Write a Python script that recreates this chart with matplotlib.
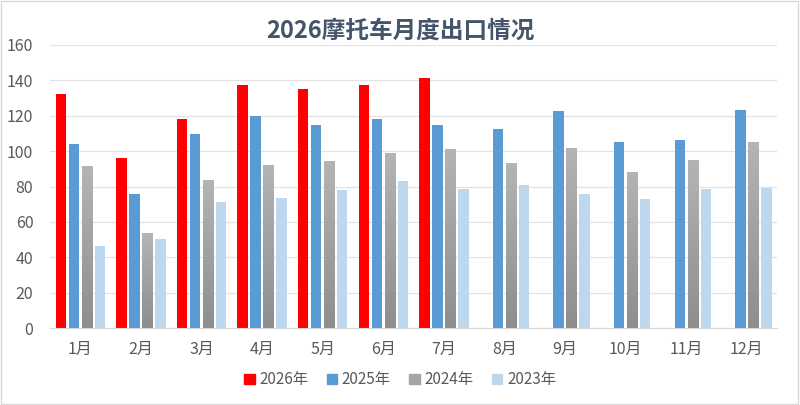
import numpy as np
import matplotlib
matplotlib.use('Agg')
import matplotlib.pyplot as plt
from matplotlib.patches import Rectangle
from matplotlib.colors import LinearSegmentedColormap

plt.rcParams['font.family'] = ['Noto Sans CJK SC', 'DejaVu Sans']

# datos
meses = ['1月', '2月', '3月', '4月', '5月', '6月', '7月', '8月', '9月', '10月', '11月', '12月']
anios = ['2026年', '2025年', '2024年', '2023年']
v2026 = [132.3, 96.3, 118.2, 137.1, 135.1, 137.1, 141.6, None, None, None, None, None]
v2025 = [103.8, 75.9, 109.8, 119.9, 115.0, 118.0, 114.5, 112.4, 122.5, 105.1, 106.2, 123.5]
v2024 = [91.4, 53.6, 83.9, 92.2, 94.2, 98.9, 101.2, 93.1, 101.9, 88.2, 95.2, 105.1]
v2023 = [46.5, 50.6, 71.2, 73.6, 78.3, 83.0, 78.5, 80.6, 75.5, 72.9, 78.7, 79.4]

series = [v2026, v2025, v2024, v2023]
colores = ['#FF0000', '#5B9BD5', '#A5A5A5', '#BDD7EE']
gris_grad = LinearSegmentedColormap.from_list('gris', ['#B4B4B4', '#8E8E8E'])

fig = plt.figure(figsize=(8, 4.05), dpi=100)
ax = fig.add_axes([0.0625, 0.19, 0.909, 0.699])

x = np.arange(len(meses))
paso = 0.215
ancho = 0.172

for k, (vals, col) in enumerate(zip(series, colores)):
    xs = [xi + (k - 1.5) * paso for xi, v in zip(x, vals) if v is not None]
    ys = [v for v in vals if v is not None]
    barras = ax.bar(xs, ys, width=ancho, color=col, label=anios[k], zorder=2)
    if k == 2:
        # degradado en las barras grises
        grad = np.linspace(0, 1, 100).reshape(-1, 1)
        for b in barras:
            x0, w, h = b.get_x(), b.get_width(), b.get_height()
            im = ax.imshow(grad, cmap=gris_grad, aspect='auto',
                           extent=(x0, x0 + w, 0, h), origin='upper', zorder=3)
            im.set_clip_path(b)

ax.set_xlim(-0.5, len(meses) - 0.5)
ax.set_ylim(0, 160)
ax.set_yticks(np.arange(0, 161, 20))
ax.set_xticks(x)
ax.set_xticklabels(meses)
ax.grid(axis='y', color='#E3E3E3', linewidth=0.9, zorder=0)
for s in ['top', 'right', 'left']:
    ax.spines[s].set_visible(False)
ax.spines['bottom'].set_color('#D9D9D9')
ax.tick_params(axis='both', length=0, labelsize=11.5, colors='#595959')
ax.tick_params(axis='x', pad=9)
ax.tick_params(axis='y', pad=12)

fig.text(0.5, 0.925, '2026摩托车月度出口情况', ha='center', va='center',
         fontsize=17, fontweight='bold', color='#44546A')

handles = [Rectangle((0, 0), 1, 1, color=c) for c in colores]
fig.legend(handles, anios, loc='center', bbox_to_anchor=(0.5, 0.062), ncol=4,
           frameon=False, fontsize=11, handlelength=0.7, handleheight=0.7,
           handletextpad=0.3, columnspacing=1.2, labelcolor='#595959')

fig.patches.append(Rectangle((0.001, 0.002), 0.997, 0.996, transform=fig.transFigure,
                             fill=False, edgecolor='#D9D9D9', linewidth=1))

fig.savefig('out.png', dpi=100)
